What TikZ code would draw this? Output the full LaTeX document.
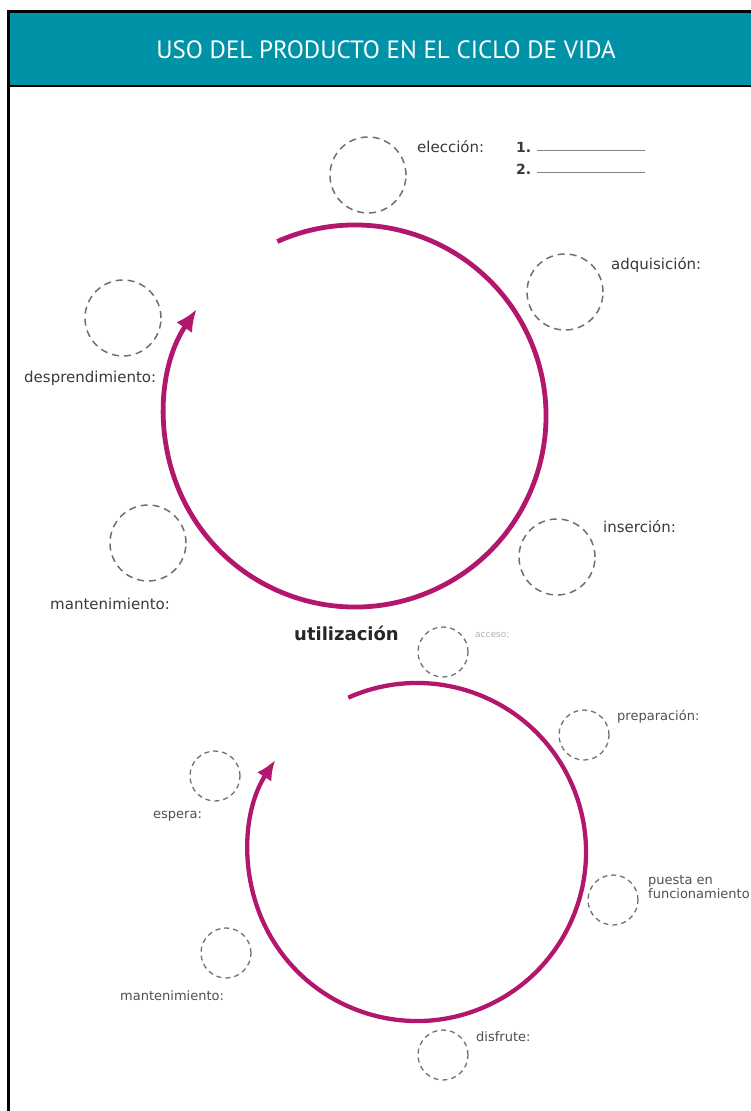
\documentclass[tikz,border=0pt]{standalone}
\usepackage{fontspec}
\setmainfont{DejaVu Sans}
\newfontfamily\titlefont{PT Sans}
\usetikzlibrary{arrows.meta}
\definecolor{headteal}{HTML}{0093A7}
\definecolor{mag}{HTML}{B3176D}
\definecolor{dgray}{HTML}{3A3A3A}
\definecolor{sgray}{HTML}{505050}
\definecolor{cgray}{HTML}{707070}
\begin{document}
\begin{tikzpicture}[x=1pt,y=-1pt,
  bigc/.style={circle, draw=cgray, dash pattern=on 7pt off 5pt, line width=1.5pt, minimum size=76pt, inner sep=0pt},
  smallc/.style={circle, draw=cgray, dash pattern=on 5pt off 4pt, line width=1.3pt, minimum size=50pt, inner sep=0pt},
  lbl/.style={anchor=west, inner sep=0pt, text=dgray, font=\fontsize{15}{17}\selectfont},
  slbl/.style={anchor=west, inner sep=0pt, text=sgray, font=\fontsize{13}{14}\selectfont, align=left},
  cyc/.style={draw=mag, line width=4.8pt, -{Latex[length=22pt,width=19pt]}},
  frame/.style={line width=3pt, black}]
\useasboundingbox (0,0) rectangle (751,1111);
\fill[white] (0,0) rectangle (751,1111);
% header
\fill[headteal] (8,11) rectangle (760,86);
\draw[frame] (8,1120) -- (8,11) -- (760,11);
\draw[line width=2pt] (8,86) -- (760,86);
\node[text=white, font=\titlefont\fontsize{25}{28}\selectfont] (title) at (386,50) {USO DEL PRODUCTO EN EL CICLO DE VIDA};
% top cycle
\coordinate (topc) at (355,416);
\draw[cyc] (topc) ++(114:191pt) arc[start angle=114, end angle=-214, radius=191pt];
\node[bigc] (eleccion) at (368,175) {};
\node[bigc] (adquisicion) at (565,292) {};
\node[bigc] (desprend) at (123,318) {};
\node[bigc] (mant1) at (148,543) {};
\node[bigc] (insercion) at (557,557) {};
\node[lbl] (leleccion) at (417,147) {elección:};
\node[lbl, font=\bfseries\fontsize{14}{16}\selectfont] (one) at (516,147) {1.};
\node[lbl, font=\bfseries\fontsize{14}{16}\selectfont] (two) at (516,169) {2.};
\coordinate (oneend) at (645,150);
\coordinate (twoend) at (645,172);
\draw[gray, line width=0.9pt] (537,150) -- (oneend);
\draw[gray, line width=0.9pt] (537,172) -- (twoend);
\node[lbl] (ladq) at (611,265) {adquisición:};
\node[lbl] (ldesp) at (24,378) {desprendimiento:};
\node[lbl] (lmant1) at (50,604) {mantenimiento:};
\node[lbl] (lins) at (603,527) {inserción:};
\node[anchor=west, inner sep=0pt, font=\bfseries\fontsize{18}{20}\selectfont, text=black!85] (util) at (294,633) {utilización};
% bottom cycle
\coordinate (botc) at (417,852);
\draw[cyc, line width=4.3pt, -{Latex[length=20pt,width=17pt]}] (botc) ++(114:169pt) arc[start angle=114, end angle=-213, radius=169pt];
\node[smallc] (acceso) at (443,652) {};
\node[smallc] (prep) at (584,735) {};
\node[smallc] (puesta) at (613,900) {};
\node[smallc] (disfrute) at (443,1055) {};
\node[smallc] (mant2) at (226,953) {};
\node[smallc] (espera) at (215,776) {};
\node[anchor=west, inner sep=0pt, text=gray!60, font=\fontsize{9}{10}\selectfont] (lacc) at (475,635) {acceso:};
\node[slbl] (lprep) at (617,717) {preparación:};
\node[slbl, anchor=north west] (lpuesta) at (648,875) {puesta en\\funcionamiento};
\node[slbl] (lesp) at (153,816) {espera:};
\node[slbl] (lmant2) at (120,996) {mantenimiento:};
\node[slbl] (ldis) at (476,1037) {disfrute:};
\end{tikzpicture}
\end{document}
